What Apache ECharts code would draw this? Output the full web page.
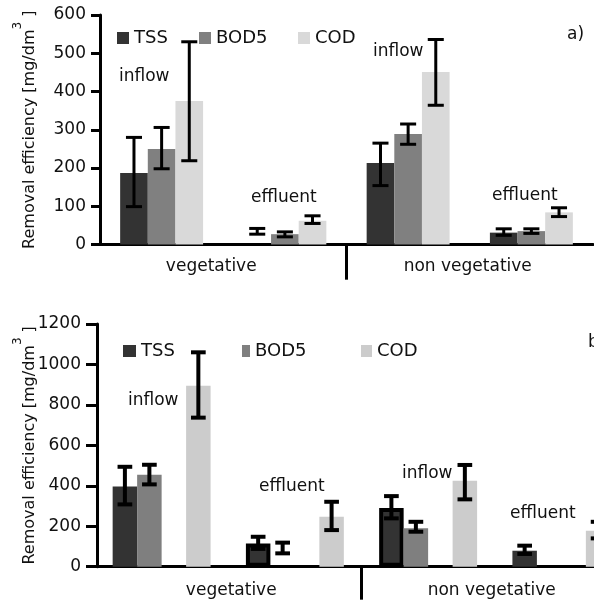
<!DOCTYPE html>
<html><head><meta charset="utf-8">
<script src="https://cdn.jsdelivr.net/npm/echarts@6/dist/echarts.min.js"></script>
<style>html,body{margin:0;padding:0;background:#fff}#c{width:594px;height:605px}</style>
</head><body><div id="c"></div>
<script>
// ---------- data ----------
const categories = ['vegetative inflow', 'vegetative effluent', 'non vegetative inflow', 'non vegetative effluent'];
const groupLabels = ['vegetative', 'non vegetative'];
const measures = ['TSS', 'BOD5', 'COD'];

// panel a) values
const aTSS  = [187, null, 213, 31];
const aBOD5 = [250, 27, 289, 35];
const aCOD  = [375, 62, 451, 84];
const aTSSErr  = [[99, 280], [27, 42], [154, 265], [24, 41]];
const aBOD5Err = [[198, 306], [20, 33], [262, 315], [29, 41]];
const aCODErr  = [[219, 530], [55, 75], [364, 536], [73, 96]];
const aYMax = 600, aYStep = 100;

// panel b) values
const bTSS  = [396, 115, 290, 79];
const bBOD5 = [455, null, 190, null];
const bCOD  = [895, 247, 425, 178];
const bTSSErr  = [[308, 494], [88, 148], [239, 349], [63, 104]];
const bBOD5Err = [[407, 504], [66, 119], [173, 222], null];
const bCODErr  = [[737, 1060], [181, 321], [333, 503], [140, 222]];
const bYMax = 1200, bYStep = 200;
const bOutlined = [false, true, true, false]; // TSS bars drawn with heavy outline

const dividerAt = 2;          // boundary between the two site groups (category units)
const annotations = [
  ['inflow', 119, 77], ['effluent', 251, 198], ['inflow', 373, 52], ['effluent', 492, 196],
  ['inflow', 128, 401], ['effluent', 259, 487], ['inflow', 402, 474], ['effluent', 510, 514],
  ['a)', 567, 35], ['b)', 588, 343]
];

// ---------- styling ----------
const FONT = 'DejaVu Sans';
const TXT = '#111';
const cA = {TSS: '#333333', BOD5: '#808080', COD: '#d9d9d9'};
const cB = {TSS: '#333333', BOD5: '#7f7f7f', COD: '#cccccc'};
const aGap = 0.327, bGap = 0.265;

function errRender(slot, nSlots, gapFrac, capFrac, lw) {
  return function (params, api) {
    const i = api.value(0);
    const band = api.size([1, 0])[0];
    const gw = band * (1 - gapFrac);
    const bw = gw / nSlots;
    const cx = api.coord([i, 0])[0] - gw / 2 + bw * (slot + 0.5);
    const yl = api.coord([i, api.value(1)])[1];
    const yh = api.coord([i, api.value(2)])[1];
    const cw = bw * capFrac / 2;
    const st = {stroke: '#000', lineWidth: lw};
    return {type: 'group', children: [
      {type: 'line', shape: {x1: cx, y1: yl, x2: cx, y2: yh}, style: st},
      {type: 'line', shape: {x1: cx - cw, y1: yl, x2: cx + cw, y2: yl}, style: st},
      {type: 'line', shape: {x1: cx - cw, y1: yh, x2: cx + cw, y2: yh}, style: st}
    ]};
  };
}
function errData(arr) {
  const out = [];
  arr.forEach((e, i) => { if (e) out.push([i, e[0], e[1]]); });
  return out;
}
function errSeries(name, arr, xi, yi, slot, n, gap, capFrac, lw) {
  return {type: 'custom', name: name + ' err', xAxisIndex: xi, yAxisIndex: yi, silent: true, z: 5, clip: false,
    renderItem: errRender(slot, n, gap, capFrac, lw), encode: {x: 0, y: [1, 2]}, data: errData(arr)};
}
function barSeries(name, arr, xi, yi, color, gap, extra) {
  return Object.assign({type: 'bar', name: name, xAxisIndex: xi, yAxisIndex: yi, data: arr,
    barGap: '0%', barCategoryGap: (gap * 100) + '%', itemStyle: {color: color}, silent: true, z: 2}, extra || {});
}

const axisLineStyle = {show: true, lineStyle: {color: '#000', width: 3}};
function yAxis(gi, max, step, offset, tickLen, margin, nameGap) {
  return {type: 'value', gridIndex: gi, min: 0, max: max, interval: step, offset: offset,
    axisLine: axisLineStyle,
    axisTick: {show: true, length: tickLen, lineStyle: {color: '#000', width: 3}},
    axisLabel: {fontFamily: FONT, fontSize: 17, color: TXT, margin: margin, formatter: v => String(v)},
    splitLine: {show: false},
    name: '{a|Removal efficiency [mg/dm}{s|3}{a| ]}', nameLocation: 'middle', nameGap: nameGap,
    nameMoveOverlap: false,
    nameTextStyle: {rich: {
      a: {fontFamily: FONT, fontSize: 16, color: TXT, verticalAlign: 'bottom', lineHeight: 26},
      s: {fontFamily: FONT, fontSize: 12, color: TXT, verticalAlign: 'top', lineHeight: 26}
    }}};
}
function catAxis(gi) {
  return {type: 'category', gridIndex: gi, data: categories, axisLine: axisLineStyle,
    axisTick: {show: false}, axisLabel: {show: false}};
}
function groupAxis(gi, margin, pads) {
  return {type: 'category', gridIndex: gi, data: groupLabels, position: 'bottom',
    axisLine: {show: false}, axisTick: {show: false},
    axisLabel: {margin: margin, fontFamily: FONT, fontSize: 17, color: TXT,
      formatter: (v, i) => '{g' + i + '|' + v + '}',
      rich: {g0: {fontFamily: FONT, fontSize: 17, color: TXT, padding: pads[0]},
             g1: {fontFamily: FONT, fontSize: 17, color: TXT, padding: pads[1]}}}};
}
function hiddenAxis(gi) {
  return {type: 'value', gridIndex: gi, min: 0, max: categories.length, show: false};
}
function divider(xi, yi, drop) {
  return {type: 'line', xAxisIndex: xi, yAxisIndex: yi, data: [[dividerAt, 0], [dividerAt, -drop]],
    symbol: 'none', clip: false, silent: true, lineStyle: {color: '#000', width: 3}, z: 3};
}
function legendItem(name, left, top, color, w) {
  return {data: [{name: name, itemStyle: {color: color}}], left: left, top: top, icon: 'rect',
    itemWidth: w || 12, itemHeight: 12, selectedMode: false,
    textStyle: {fontFamily: FONT, fontSize: 18, color: TXT}};
}

const series = [
  barSeries('TSS', aTSS, 0, 0, cA.TSS, aGap),
  barSeries('BOD5', aBOD5, 0, 0, cA.BOD5, aGap),
  barSeries('COD', aCOD, 0, 0, cA.COD, aGap),
  errSeries('TSS', aTSSErr, 0, 0, 0, 3, aGap, 0.58, 3),
  errSeries('BOD5', aBOD5Err, 0, 0, 1, 3, aGap, 0.58, 3),
  errSeries('COD', aCODErr, 0, 0, 2, 3, aGap, 0.58, 3),
  divider(2, 0, 92),

  barSeries('TSS', bTSS.map((v, i) => bOutlined[i] ? {value: v, itemStyle: {borderColor: '#000', borderWidth: 4}} : v), 3, 1, cB.TSS, bGap),
  barSeries('BOD5', bBOD5, 3, 1, cB.BOD5, bGap),
  barSeries('blank', categories.map(() => null), 3, 1, 'rgba(0,0,0,0)', bGap),
  barSeries('COD', bCOD, 3, 1, cB.COD, bGap),
  errSeries('TSS', bTSSErr, 3, 1, 0, 4, bGap, 0.6, 4),
  errSeries('BOD5', bBOD5Err, 3, 1, 1, 4, bGap, 0.6, 4),
  errSeries('COD', bCODErr, 3, 1, 3, 4, bGap, 0.6, 4),
  divider(5, 1, 163)
];

const option = {
  animation: false,
  backgroundColor: '#fff',
  grid: [
    {left: 100, top: 15, width: 493, height: 229.5, outerBoundsMode: 'none', containLabel: false},
    {left: 95, top: 324, width: 533, height: 242.7, outerBoundsMode: 'none', containLabel: false}
  ],
  xAxis: [catAxis(0), groupAxis(0, 14, [[0, 24, 0, 0], [0, 4, 0, 0]]), hiddenAxis(0),
          catAxis(1), groupAxis(1, 15, [[0, 0, 0, 6], [0, 6, 0, 0]]), hiddenAxis(1)],
  yAxis: [yAxis(0, aYMax, aYStep, 3, 9, 11, 59), yAxis(1, bYMax, bYStep, -2, 11, 16, 59)],
  legend: [
    legendItem('TSS', 112, 24, cA.TSS), legendItem('BOD5', 194, 24, cA.BOD5), legendItem('COD', 293, 24, cA.COD),
    legendItem('TSS', 118, 337, cB.TSS, 13), legendItem('BOD5', 237, 337, cB.BOD5, 8), legendItem('COD', 356, 337, cB.COD, 11)
  ],
  graphic: annotations.map(a => ({type: 'text', x: a[1], y: a[2], silent: true,
    style: {text: a[0], fontFamily: FONT, fontSize: 17, fill: TXT, verticalAlign: 'middle', align: 'left'}})),
  series: series
};
const chart = echarts.init(document.getElementById('c'), null, {renderer: 'canvas'});
chart.setOption(option);
</script>
</body></html>
